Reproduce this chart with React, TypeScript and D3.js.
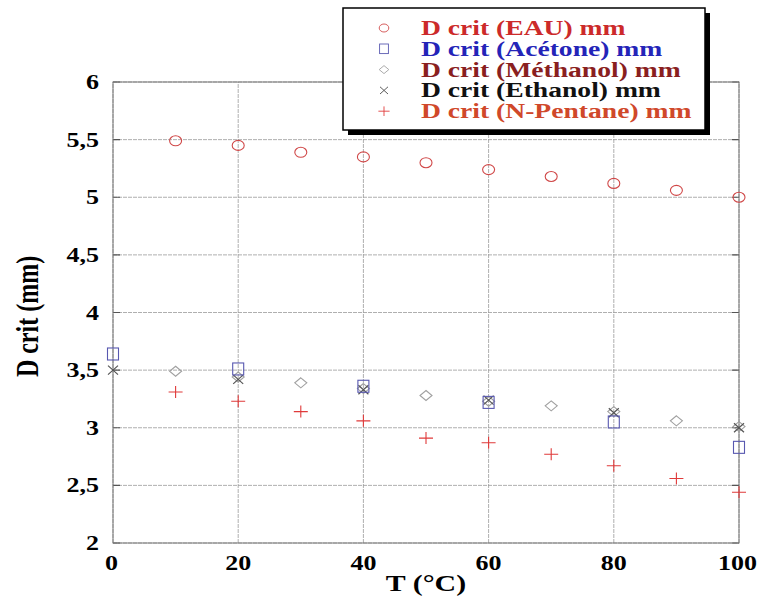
import React, { useEffect, useRef } from 'react';
import * as d3 from 'd3';

const tEau = [10, 20, 30, 40, 50, 60, 70, 80, 90, 100];
const dEau = [5.49, 5.45, 5.39, 5.35, 5.3, 5.24, 5.18, 5.12, 5.06, 5.0];

const tAcetone = [0, 20, 40, 60, 80, 100];
const dAcetone = [3.64, 3.51, 3.36, 3.22, 3.05, 2.83];

const tMethanol = [10, 20, 30, 40, 50, 60, 70, 80, 90, 100];
const dMethanol = [3.49, 3.44, 3.39, 3.34, 3.28, 3.23, 3.19, 3.14, 3.06, 3.01];

const tEthanol = [0, 20, 40, 60, 80, 100];
const dEthanol = [3.5, 3.42, 3.33, 3.24, 3.13, 3.0];

const tPentane = [10, 20, 30, 40, 50, 60, 70, 80, 90, 100];
const dPentane = [3.31, 3.23, 3.14, 3.06, 2.91, 2.87, 2.77, 2.67, 2.56, 2.44];

const xTicks = [0, 20, 40, 60, 80, 100];
const yTicks = [2, 2.5, 3, 3.5, 4, 4.5, 5, 5.5, 6];

const legendLabels = [
  'D crit (EAU) mm',
  'D crit (Acétone) mm',
  'D crit (Méthanol) mm',
  'D crit (Ethanol) mm',
  'D crit (N-Pentane) mm',
];
const legendColors = ['#cc2a2a', '#2424b8', '#8a1f1f', '#111111', '#d0482a'];
const markerColors = ['#d04848', '#5858b0', '#a0a0a0', '#555555', '#e03a3a'];
const markerKinds = ['circle', 'square', 'diamond', 'cross', 'plus'];

export default function App() {
  const svgRef = useRef<SVGSVGElement>(null);

  useEffect(() => {
    const width = 760;
    const height = 597;
    const margin = { top: 82, right: 21, bottom: 54, left: 113 };
    const sx = 1.3; // the original picture is stretched horizontally

    const svg = d3.select(svgRef.current);
    svg.selectAll('*').remove();
    svg.attr('width', width).attr('height', height).style('background', '#fff');

    const x = d3.scaleLinear().domain([0, 100]).range([margin.left, width - margin.right]);
    const y = d3.scaleLinear().domain([2, 6]).range([height - margin.bottom, margin.top]);

    const font = '"Liberation Serif", "Times New Roman", serif';

    // grid
    const grid = svg.append('g');
    grid.selectAll('.gx')
      .data(xTicks)
      .join('line')
      .attr('x1', d => x(d)).attr('x2', d => x(d))
      .attr('y1', y(2)).attr('y2', y(6))
      .attr('stroke', '#9a9a9a').attr('stroke-width', 0.8)
      .attr('stroke-dasharray', '4,1');
    grid.selectAll('.gy')
      .data(yTicks)
      .join('line')
      .attr('x1', x(0)).attr('x2', x(100))
      .attr('y1', d => y(d)).attr('y2', d => y(d))
      .attr('stroke', '#9a9a9a').attr('stroke-width', 0.8)
      .attr('stroke-dasharray', '4,1');

    // small ticks on frame
    grid.selectAll('.ty')
      .data(yTicks)
      .join('path')
      .attr('d', d => `M${x(0)},${y(d)}h7M${x(100)},${y(d)}h-7`)
      .attr('stroke', '#555').attr('stroke-width', 1.2);

    // frame
    svg.append('rect')
      .attr('x', x(0)).attr('y', y(6))
      .attr('width', x(100) - x(0)).attr('height', y(2) - y(6))
      .attr('fill', 'none').attr('stroke', '#777').attr('stroke-width', 1);

    // tick labels
    svg.append('g')
      .selectAll('text')
      .data(yTicks)
      .join('text')
      .attr('transform', d => `translate(${x(0) - 14},${y(d) + 7}) scale(${sx},1)`)
      .attr('text-anchor', 'end')
      .style('font-family', font).style('font-weight', 'bold').style('font-size', '20px')
      .text(d => String(d).replace('.', ','));

    svg.append('g')
      .selectAll('text')
      .data(xTicks)
      .join('text')
      .attr('transform', d => {
        const dx = d === 0 ? -8 : d === 100 ? 18 : 0;
        return `translate(${x(d) + dx},${height - 27}) scale(${sx},1)`;
      })
      .attr('text-anchor', d => (d === 0 ? 'start' : d === 100 ? 'end' : 'middle'))
      .style('font-family', font).style('font-weight', 'bold').style('font-size', '20px')
      .text(d => String(d));

    // axis titles
    svg.append('text')
      .attr('transform', `translate(${x(50)},${height - 6}) scale(${sx},1)`)
      .attr('text-anchor', 'middle')
      .style('font-family', font).style('font-weight', 'bold').style('font-size', '23px')
      .text('T (°C)');

    svg.append('text')
      .attr('transform', `translate(38,${y(4) + 4}) scale(${sx},1) rotate(-90)`)
      .attr('text-anchor', 'middle')
      .style('font-family', font).style('font-weight', 'bold').style('font-size', '24px')
      .text('D crit (mm)');

    const drawMarker = (g: any, kind: string, color: string) => {
      if (kind === 'circle') {
        g.append('ellipse').attr('rx', 6).attr('ry', 5).attr('fill', 'none').attr('stroke', color).attr('stroke-width', 1.1);
      } else if (kind === 'square') {
        g.append('rect').attr('x', -5.5).attr('y', -6).attr('width', 11).attr('height', 12)
          .attr('fill', 'none').attr('stroke', color).attr('stroke-width', 1.1);
      } else if (kind === 'diamond') {
        g.append('path').attr('d', 'M0,-5L6,0L0,5L-6,0Z').attr('fill', 'none').attr('stroke', color).attr('stroke-width', 1.1);
      } else if (kind === 'cross') {
        g.append('path').attr('d', 'M-5,-4.5L5,4.5M-5,4.5L5,-4.5').attr('stroke', color).attr('stroke-width', 1.2);
      } else {
        g.append('path').attr('d', 'M-7,0H7M0,-6V6').attr('stroke', color).attr('stroke-width', 1.1);
      }
    };

    const series = [
      { t: tEau, d: dEau },
      { t: tAcetone, d: dAcetone },
      { t: tMethanol, d: dMethanol },
      { t: tEthanol, d: dEthanol },
      { t: tPentane, d: dPentane },
    ];
    const drawOrder = [2, 4, 0, 3, 1];
    drawOrder.forEach(i => {
      const s = series[i];
      s.t.forEach((t, j) => {
        const g = svg.append('g').attr('transform', `translate(${x(t)},${y(s.d[j])})`);
        drawMarker(g, markerKinds[i], markerColors[i]);
      });
    });

    // legend
    const lg = svg.append('g').attr('transform', 'translate(343,8)');
    lg.append('rect').attr('x', 5).attr('y', 5).attr('width', 362).attr('height', 122).attr('fill', '#000');
    lg.append('rect').attr('x', 0).attr('y', 0).attr('width', 362).attr('height', 122)
      .attr('fill', '#fff').attr('stroke', '#000').attr('stroke-width', 1.5);
    legendLabels.forEach((lab, i) => {
      const cy = 20 + i * 20.8;
      const g = lg.append('g').attr('transform', `translate(41,${cy}) scale(0.8)`);
      drawMarker(g, markerKinds[i], markerColors[i]);
      lg.append('text')
        .attr('transform', `translate(78,${cy + 7}) scale(1.38,1)`)
        .style('font-family', font).style('font-weight', 'bold').style('font-size', '20px')
        .attr('fill', legendColors[i])
        .text(lab);
    });
  }, []);

  return <svg ref={svgRef} style={{ display: 'block', position: 'absolute', left: 0, top: 0 }} />;
}
